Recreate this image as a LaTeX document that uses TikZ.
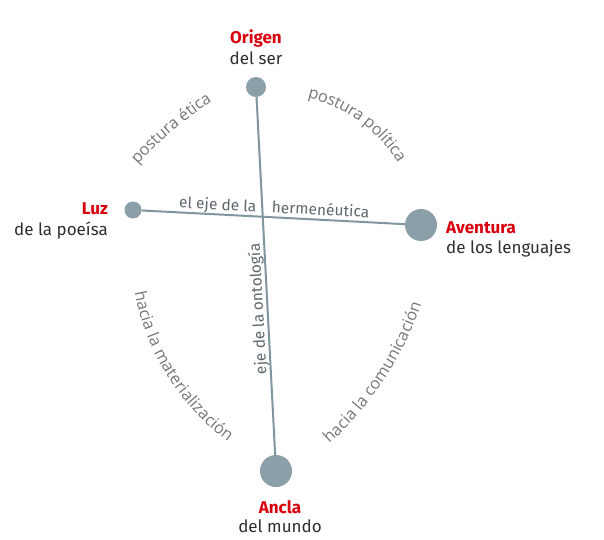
\documentclass[tikz,border=0pt]{standalone}
\usepackage{fontspec}
\setmainfont{Fira Sans}
\newfontfamily\curvefont{Open Sans}
\usetikzlibrary{decorations.text}
\definecolor{redlbl}{HTML}{D9000D}
\definecolor{darklbl}{HTML}{2E2E2E}
\definecolor{dotcol}{HTML}{8A9FA7}
\definecolor{linecol}{HTML}{7F969E}
\definecolor{curvecol}{HTML}{777777}
\definecolor{axiscol}{HTML}{5F686C}
\begin{document}
\begin{tikzpicture}[x=1pt,y=-1pt,
  hub/.style={circle, fill=dotcol, inner sep=0pt, minimum size=#1},
  axis/.style={draw=linecol, line width=2pt},
  title/.style={text=redlbl, font=\fontsize{17}{20}\selectfont\bfseries, inner sep=0pt},
  sub/.style={text=darklbl, font=\fontsize{17}{20}\selectfont, inner sep=0pt},
  axislbl/.style={text=axiscol, font=\fontsize{15.5}{18}\selectfont, inner sep=0pt, text depth=0pt, outer sep=4.5pt, above, sloped},
  curve/.style={decorate, decoration={text along path, text align=center, raise=-4.5pt, text color=curvecol, text={|\curvefont\fontsize{16.3}{19}\selectfont|#1}}}
]
\useasboundingbox (0,0) rectangle (604,539);
\fill[white] (0,0) rectangle (604,539);

\node[hub=20pt] (o) at (256,87) {};
\node[hub=17pt] (l) at (133,210) {};
\node[hub=32pt] (a) at (421,225) {};
\node[hub=32pt] (m) at (276,471) {};

\draw[axis] (l) -- (a)
  node[axislbl, pos=0.287] (ejeh1) {el eje de la}
  node[axislbl, pos=0.678] (ejeh2) {hermenéutica};
\draw[axis] (m) -- (o)
  node[axislbl, allow upside down, pos=0.409] (ejeo) {eje de la ontología};

\node[title, anchor=base] (origen) at (256,43) {Origen};
\node[sub, anchor=base] (delser) at (256,64) {del ser};
\node[title, anchor=base east] (luz) at (108,214) {Luz};
\node[sub, anchor=base east] (poesia) at (108,235) {de la poeísa};
\node[title, anchor=base west] (aventura) at (446,233) {Aventura};
\node[sub, anchor=base west] (lenguajes) at (446,253) {de los lenguajes};
\node[title, anchor=base] (ancla) at (280,513) {Ancla};
\node[sub, anchor=base] (mundo) at (280,532) {del mundo};

\path[curve={postura ética}] plot[domain=0:44, samples=45] ({420+385*cos(152.5-\x)},{420-385*sin(152.5-\x)});
\path[curve={postura política}] plot[domain=0:80, samples=81] ({274.5+149*cos(94-\x)},{238.5-149*sin(94-\x)});
\path[curve={hacia la materialización}] plot[domain=0:70, samples=71] ({372+237*cos(177+\x)},{248-237*sin(177+\x)});
\path[curve={hacia la comunicación}] plot[domain=0:50, samples=51] ({103+332*cos(-58.3+\x)},{195-332*sin(-58.3+\x)});
\end{tikzpicture}
\end{document}
